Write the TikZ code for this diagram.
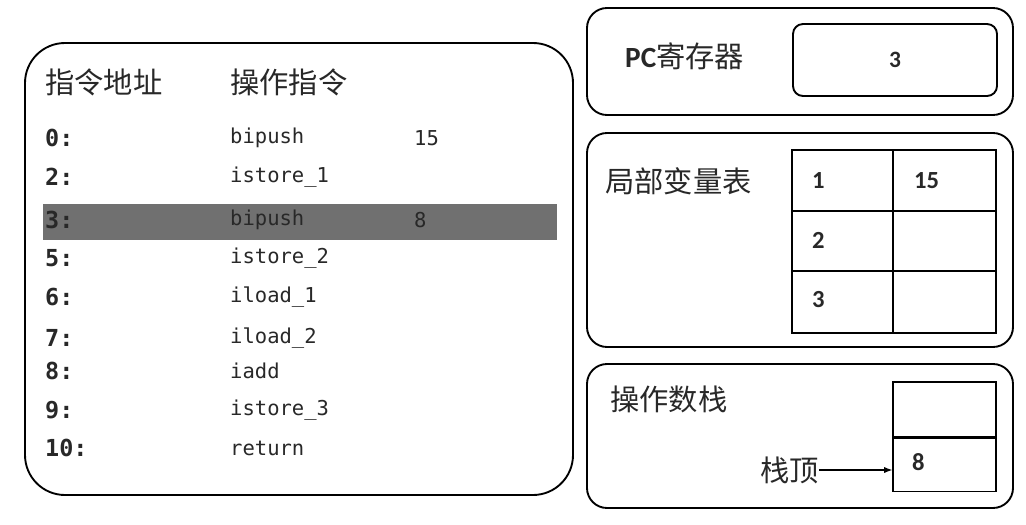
\documentclass[tikz,border=0pt]{standalone}
\usepackage{fontspec}
\setmainfont{Carlito}
\setmonofont{DejaVu Sans Mono}
\newfontfamily\cjk{Noto Sans CJK SC}
\usetikzlibrary{arrows.meta,positioning}

\definecolor{rowgray}{RGB}{112,112,112}
\definecolor{inkgray}{RGB}{40,40,40}
\tikzset{
    panel/.style={draw, line width=1.6pt, rounded corners=0.6cm},
    head/.style={anchor=west, inner sep=0pt, text=inkgray, font=\cjk\fontsize{25}{25}\selectfont},
    addr/.style={anchor=west, inner sep=0pt, text=inkgray, font=\ttfamily\bfseries\fontsize{20}{20}\selectfont},
    instr/.style={anchor=west, inner sep=0pt, text=inkgray, font=\ttfamily\fontsize{17.5}{17.5}\selectfont},
    num/.style={anchor=west, inner sep=0pt, text=inkgray, font=\bfseries\fontsize{21}{21}\selectfont},
    cell/.style={draw, line width=1pt, minimum width=3.09cm, inner sep=0pt}
}

\begin{document}
\begin{tikzpicture}[x=0.03cm, y=-0.03cm]
    \useasboundingbox (0,0) rectangle (1026,524);

    % program
    \draw[panel, rounded corners=1.2cm] (25,43) rectangle (573,495);
    \fill[rowgray] (43,204) rectangle (557,240);
    \node[head] (hAddr) at (45,82) {指令地址};
    \node[head] (hInstr) at (230,82) {操作指令};
    \foreach \a/\i/\y [count=\n] in {0:/bipush/138, 2:/istore\_1/177, 3:/bipush/220, 5:/istore\_2/258,
            6:/iload\_1/297, 7:/iload\_2/338, 8:/iadd/371, 9:/istore\_3/410, 10:/return/448} {
        \node[addr] (a\n) at (45,\y) {\a};
        \node[instr] (i\n) at (230,\y) {\i};
    }
    \node[instr] (v1) at (414,138) {15};
    \node[instr] (v3) at (414,220) {8};

    % pc register
    \draw[panel] (587,8) rectangle (1013,115);
    \node[head] (pcName) at (625,56) {{\fontspec{Carlito}\bfseries PC}寄存器};
    \node[draw, line width=1.6pt, rounded corners=0.3cm, minimum width=6.12cm, minimum height=2.16cm,
        text=inkgray, font=\bfseries\fontsize{20}{20}\selectfont] (pcVal) at (895,60) {3};

    % local variables
    \draw[panel] (587,133) rectangle (1013,347);
    \node[head] (lvName) at (605,181) {局部变量表};
    \draw[line width=1pt] (792,150) rectangle (996,333);
    \draw[line width=1pt] (893,150) -- (893,333);
    \draw[line width=1pt] (792,211) -- (996,211) (792,271) -- (996,271);
    \node[num] (lv1) at (812,181) {1};
    \node[num] (lv1v) at (914,181) {15};
    \node[num] (lv2) at (812,240) {2};
    \node[num] (lv3) at (812,300) {3};

    % operand stack
    \draw[panel] (587,364) rectangle (1013,508);
    \node[head] (osName) at (610,399) {操作数栈};
    \node[cell, minimum height=1.65cm] (slot1) at (944.5,409.5) {};
    \node[cell, minimum height=1.59cm, below=0pt of slot1] (slot0) {};
    \node[num] (slot0v) at (912,462) {8};
    \node[head] (top) at (760,470) {栈顶};
    \draw[-{Latex[length=7pt]}, line width=1pt] (top.east) -- (top.east -| slot0.west);
\end{tikzpicture}
\end{document}
